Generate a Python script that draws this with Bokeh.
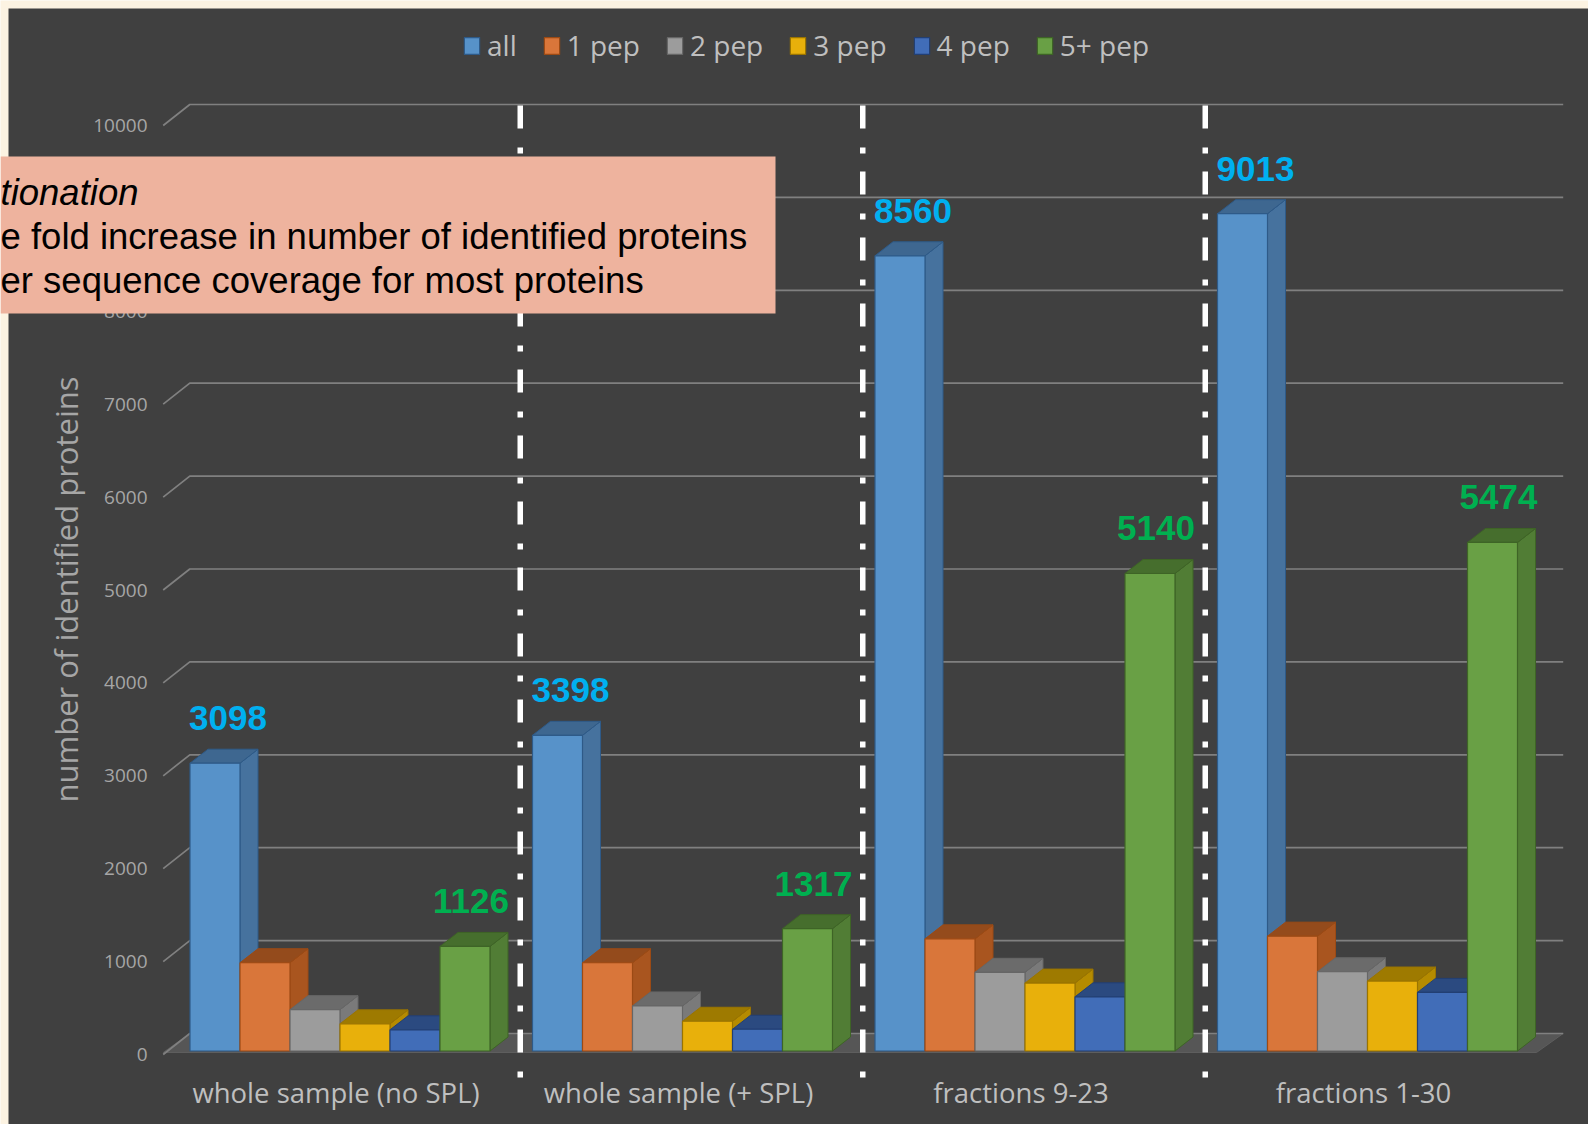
import math

from bokeh.core.properties import value
from bokeh.embed import file_html
from bokeh.models import Legend, LegendItem, Range1d
from bokeh.plotting import figure
from bokeh.resources import INLINE

# ---- data -------------------------------------------------------------
groups = ["whole sample (no SPL)", "whole sample (+ SPL)", "fractions 9-23", "fractions 1-30"]
series = ["all", "1 pep", "2 pep", "3 pep", "4 pep", "5+ pep"]

all_pep = [3098, 3398, 8560, 9013]
pep1 = [950, 950, 1207, 1236]
pep2 = [445, 485, 847, 853]
pep3 = [292, 320, 731, 753]
pep4 = [228, 234, 583, 631]
pep5_plus = [1126, 1317, 5140, 5474]

y_ticks = list(range(0, 10001, 1000))
y_title = "number of identified proteins"

box_lines = [
    "tionation",
    "e fold increase in number of identified proteins",
    "er sequence coverage for most proteins",
]

# ---- styling ----------------------------------------------------------
front_colors = ["#5792c9", "#d9763a", "#9c9c9c", "#e8b00b", "#416db8", "#69a045"]
side_colors = ["#46729e", "#a9551f", "#7a7a7a", "#b58b00", "#30538f", "#517d35"]
top_colors = ["#3e6790", "#944b1c", "#6b6b6b", "#9e7a00", "#2b4a80", "#466e2d"]
edge_colors = ["#2e5a88", "#9c4a14", "#666666", "#9a7400", "#223f73", "#3e6426"]

W, H = 1588, 1124
PX_PER_GROUP = 342.5      # horizontal pixels per category
GROUP0_PX = 339.5         # pixel column of the first category centre
PX_PER_UNIT = 0.0929      # vertical pixels per protein
ZERO_PX = 1050.5          # pixel row (from top) of the value 0


def xu(px):
    return (px - GROUP0_PX) / PX_PER_GROUP


def yu(py):
    return (ZERO_PX - py) / PX_PER_UNIT


def dxu(d):
    return d / PX_PER_GROUP


def dyu(d):
    return d / PX_PER_UNIT


p = figure(
    width=W, height=H,
    x_range=Range1d(xu(0), xu(W)),
    y_range=Range1d(yu(H), yu(0)),
    output_backend="svg", toolbar_location=None,
    x_axis_location=None, y_axis_location=None,
    min_border=0, min_border_left=0, min_border_right=0,
    min_border_top=0, min_border_bottom=0,
)
p.outline_line_color = None
p.background_fill_color = "#fcf3e2"
p.border_fill_color = "#fcf3e2"
p.xgrid.visible = False
p.ygrid.visible = False

# dark chart panel
p.quad(left=xu(8), right=xu(W + 20), top=yu(8), bottom=yu(H + 20),
       fill_color="#404040", line_color=None)

# 3D wall geometry (axis front edge -> back wall)
AX_FRONT_X, AX_BACK_X, WALL_END_X, FLOOR_END_X = xu(162.7), xu(189.3), xu(1562.7), xu(1536)
FRONT_DROP, BACK_RISE = dyu(3.5), dyu(17.5)

# floor slab
p.patch([AX_FRONT_X, FLOOR_END_X, WALL_END_X, AX_BACK_X],
        [-dyu(1.5), -dyu(1.5), BACK_RISE, BACK_RISE],
        fill_color="#565656", line_color="#5e5e5e", line_width=1)

# gridlines on the back wall with the diagonal tick lead-ins
p.multi_line(
    xs=[[AX_FRONT_X, AX_BACK_X, WALL_END_X] for _ in y_ticks],
    ys=[[v - FRONT_DROP, v + BACK_RISE, v + BACK_RISE] for v in y_ticks],
    line_color="#808080", line_width=1.7,
)

# tick labels
p.text(x=[xu(147)] * len(y_ticks), y=[v - FRONT_DROP for v in y_ticks],
       text=[str(v) for v in y_ticks], text_align="right", text_baseline="middle",
       text_font=value("Open Sans"), text_font_size="19px", text_color="#a6a6a6")

# ---- 3D clustered columns -------------------------------------------------
values = [all_pep, pep1, pep2, pep3, pep4, pep5_plus]
BAR_W = dxu(50)
DEPTH_X, DEPTH_Y = dxu(18), dyu(14)
n_series = len(series)

front_renderers = []
for j, vals in enumerate(values):
    lefts = [g - n_series * BAR_W / 2 + j * BAR_W for g in range(len(groups))]
    rights = [l + BAR_W for l in lefts]
    side_xs = [[r, r + DEPTH_X, r + DEPTH_X, r] for r in rights]
    side_ys = [[0, DEPTH_Y, v + DEPTH_Y, v] for v in vals]
    top_xs = [[l, r, r + DEPTH_X, l + DEPTH_X] for l, r in zip(lefts, rights)]
    top_ys = [[v, v, v + DEPTH_Y, v + DEPTH_Y] for v in vals]
    p.patches(side_xs, side_ys, fill_color=side_colors[j], line_color=edge_colors[j], line_width=1)
    p.patches(top_xs, top_ys, fill_color=top_colors[j], line_color=edge_colors[j], line_width=1)
    r = p.quad(left=lefts, right=rights, bottom=[0] * len(vals), top=vals,
               fill_color=front_colors[j], line_color=edge_colors[j], line_width=1.2)
    front_renderers.append(r)

# value labels for "all" and "5+ pep"
LABEL_RISE = dyu(45)
all_centres = [g - n_series * BAR_W / 2 + BAR_W / 2 for g in range(len(groups))]
p.text(x=[c + dxu(13) for c in all_centres], y=[v + LABEL_RISE for v in all_pep],
       text=[str(v) for v in all_pep], text_align="center", text_baseline="middle",
       text_font=value("Liberation Sans"), text_font_style="bold",
       text_font_size="35px", text_color="#00b0f0")
green_centres = [c + 5 * BAR_W for c in all_centres]
p.text(x=[c + dxu(6) for c in green_centres], y=[v + LABEL_RISE for v in pep5_plus],
       text=[str(v) for v in pep5_plus], text_align="center", text_baseline="middle",
       text_font=value("Liberation Sans"), text_font_style="bold",
       text_font_size="35px", text_color="#00b050")

# dash-dot separators between categories
sep_x = [g + 0.5 + dxu(9) for g in range(len(groups) - 1)]
p.multi_line(xs=[[x, x] for x in sep_x], ys=[[yu(105), yu(1077)] for _ in sep_x],
             line_color="white", line_width=5.5, line_dash="23 19 6 18", line_cap="butt")

# category labels
p.text(x=[g - dxu(4) for g in range(len(groups))], y=[yu(1092)] * len(groups),
       text=groups, text_align="center", text_baseline="middle",
       text_font=value("Open Sans"), text_font_size="27.5px", text_color="#bfbfbf")

# value axis title
p.text(x=[xu(65)], y=[yu(589)], text=[y_title], angle=math.pi / 2,
       text_align="center", text_baseline="middle",
       text_font=value("Open Sans"), text_font_size="31px", text_color="#a6a6a6")

# legend across the top
legend = Legend(
    items=[LegendItem(label=s, renderers=[r]) for s, r in zip(series, front_renderers)],
    orientation="horizontal", location=(462, H - 64),
    glyph_width=19, glyph_height=21, label_standoff=6, spacing=25,
    padding=0, margin=0, background_fill_alpha=0, border_line_alpha=0,
    label_text_font="Open Sans", label_text_font_size="28px", label_text_color="#bfbfbf",
)
p.add_layout(legend)

# overlaid note box
p.quad(left=xu(0), right=xu(775), top=yu(156), bottom=yu(313),
       fill_color="#eeb39e", line_color=None)
box_x = [xu(0), xu(0), xu(0)]
box_y = [yu(192), yu(236), yu(280)]
styles = ["italic", "normal", "normal"]
for tx, ty, txt, st in zip(box_x, box_y, box_lines, styles):
    p.text(x=[tx], y=[ty], text=[txt], text_align="left", text_baseline="alphabetic",
           text_font=value("Liberation Sans"), text_font_style=st,
           text_font_size="36.5px", text_color="#000000")

open("out.html", "w").write(file_html(p, INLINE))
